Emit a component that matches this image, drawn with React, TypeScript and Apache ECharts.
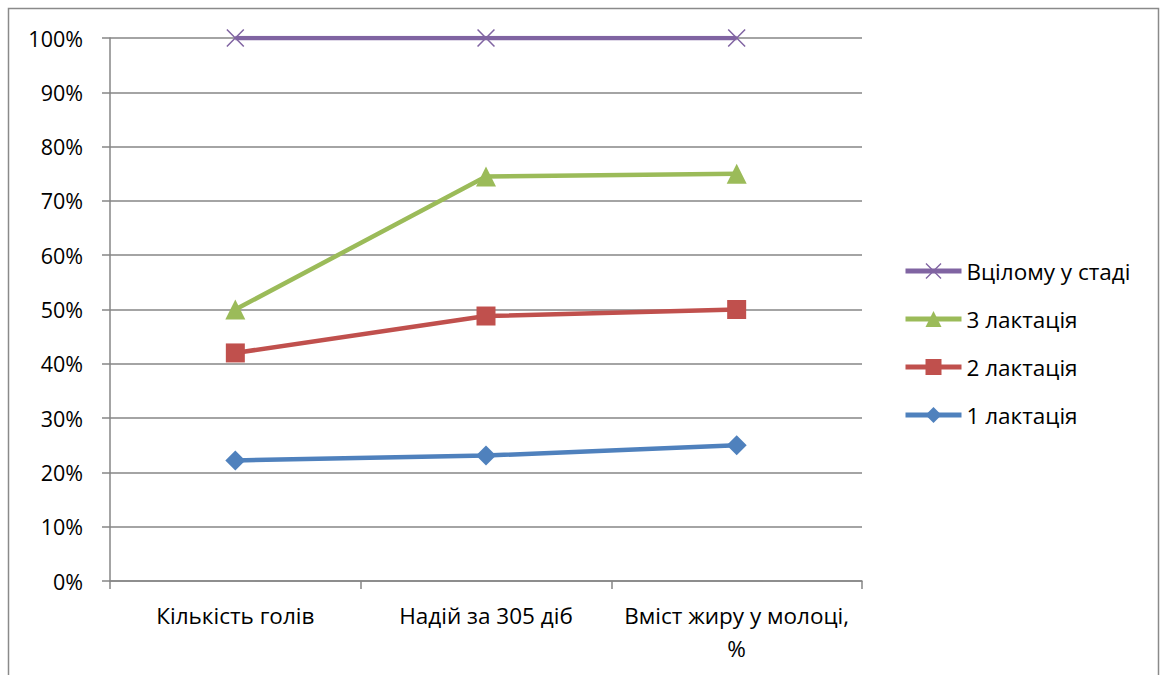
import React, { useEffect, useRef } from "react";
import * as echarts from "echarts";

const categories = ["Кількість голів", "Надій за 305 діб", "Вміст жиру у молоці, %"];
const seriesNames = ["1 лактація", "2 лактація", "3 лактація", "Вцілому у стаді"];
const lact1 = [0.222, 0.231, 0.25];
const lact2 = [0.42, 0.488, 0.5];
const lact3 = [0.5, 0.745, 0.75];
const herd = [1, 1, 1];
const yTicks = { min: 0, max: 1, interval: 0.1 };

const colors = ["#4F81BD", "#C0504D", "#9BBB59", "#8064A2"];
const crossPath =
  "path://M0,6 L6,0 L50,44 L94,0 L100,6 L56,50 L100,94 L94,100 L50,56 L6,100 L0,94 L44,50 Z";
const FONT = "Open Sans";

export default function App() {
  const ref = useRef<HTMLDivElement>(null);
  useEffect(() => {
    if (!ref.current) return;
    const chart = echarts.init(ref.current, null, { renderer: "svg" });
    const values = [lact1, lact2, lact3, herd];
    const symbols = ["diamond", "rect", "triangle", crossPath];
    const sizes = [20, 19, 20, 18];
    chart.setOption({
      animation: false,
      backgroundColor: "#ffffff",
      textStyle: { fontFamily: FONT },
      graphic: [
        {
          type: "rect",
          shape: { x: 8.5, y: 8.5, width: 1150, height: 700 },
          style: { fill: "none", stroke: "#8a8a8a", lineWidth: 1.5 },
          silent: true,
        },
      ],
      grid: { left: 110, right: 298, top: 38, bottom: 94, containLabel: false },
      legend: {
        orient: "vertical",
        left: 898,
        top: 254,
        itemWidth: 56,
        itemHeight: 20,
        itemGap: 24,
        lineStyle: { width: 5 },
        data: [...seriesNames].reverse(),
        textStyle: { fontFamily: FONT, fontSize: 22.5, color: "#000", lineHeight: 24 },
      },
      xAxis: {
        type: "category",
        data: categories,
        boundaryGap: true,
        axisLine: { lineStyle: { color: "#868686", width: 1.5 } },
        axisTick: { show: true, alignWithLabel: false, length: 8, lineStyle: { color: "#868686", width: 1.5 } },
        axisLabel: {
          fontFamily: FONT,
          fontSize: 22.5,
          color: "#000",
          margin: 17.5,
          lineHeight: 33,
          interval: 0,
          formatter: (v: string) => v.replace(", %", ",\n%"),
        },
      },
      yAxis: {
        type: "value",
        min: yTicks.min,
        max: yTicks.max,
        interval: yTicks.interval,
        axisLine: { show: true, lineStyle: { color: "#868686", width: 1.5 } },
        axisTick: { show: true, length: 8, lineStyle: { color: "#868686", width: 1.5 } },
        splitLine: { lineStyle: { color: "#868686", width: 1.5 } },
        axisLabel: {
          fontFamily: FONT,
          fontSize: 21.5,
          color: "#000",
          margin: 27,
          formatter: (v: number) => Math.round(v * 100) + "%",
        },
      },
      series: seriesNames.map((name, i) => ({
        name,
        type: "line",
        data: values[i],
        symbol: symbols[i],
        symbolSize: sizes[i],
        showSymbol: true,
        lineStyle: { color: colors[i], width: 4.5 },
        itemStyle: { color: colors[i] },
        z: 2 + i,
      })),
    });
    return () => chart.dispose();
  }, []);
  return (
    <div
      ref={ref}
      style={{ position: "absolute", left: 0, top: 0, width: 1160, height: 675 }}
    />
  );
}
